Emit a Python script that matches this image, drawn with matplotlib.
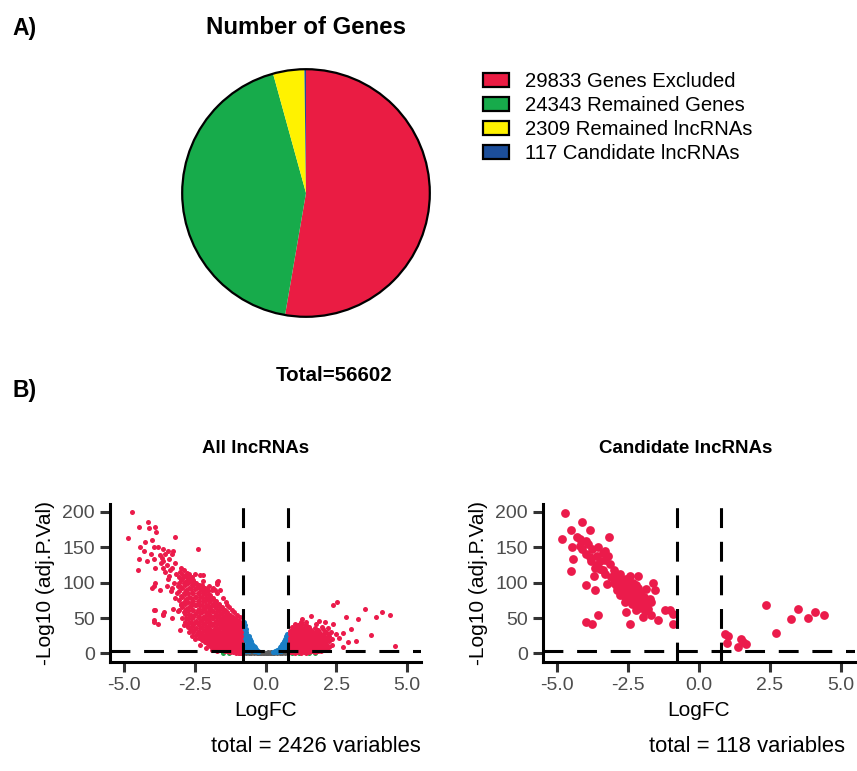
import matplotlib.pyplot as plt
from matplotlib.patches import Patch, Circle

plt.rcParams['font.family'] = ['Liberation Sans', 'DejaVu Sans']

# ---------------------------------------------------------
# Panel A data: gene counts
# ---------------------------------------------------------
pie_labels = ['29833 Genes Excluded', '24343 Remained Genes',
              '2309 Remained lncRNAs', '117 Candidate lncRNAs']
pie_counts = [29833, 24343, 2309, 117]
pie_colors = ['#EA1C43', '#17AB4B', '#FFF200', '#1C4E9A']
total_genes = 56602

# ---------------------------------------------------------
# Panel B data: volcano points (LogFC, -log10 adj.P.Val)
# ---------------------------------------------------------
fc_cut = 0.78
p_cut = 3

# All lncRNAs - significant, down (red, left)
all_down_pts = [
    (-4.73, 200), (-4.85, 163), (-4.49, 178), (-4.14, 185), (-4.12, 177), (-3.90, 178),
    (-3.87, 172), (-4.26, 158), (-4.02, 160), (-4.44, 151), (-3.95, 150), (-4.46, 134),
    (-4.20, 131), (-3.94, 134), (-4.51, 118), (-3.94, 95), (-4.00, 92), (-3.73, 90),
    (-3.94, 62), (-3.59, 58), (-3.61, 54), (-3.96, 45), (-3.79, 41), (-3.20, 165),
    (-2.37, 148), (-3.61, 148), (-3.73, 139), (-3.44, 144), (-3.26, 145), (-3.61, 130),
    (-3.20, 128), (-3.61, 120), (-3.37, 118), (-3.02, 115), (-2.79, 113), (-3.32, 92),
    (-3.14, 85), (-3.26, 63), (-3.02, 33), (-2.79, 40), (-2.85, 60), (-2.62, 68),
    (-2.62, 106), (-2.31, 111), (-2.08, 91), (-1.79, 89), (-1.61, 89), (-1.67, 103),
    (-1.73, 98), (-1.37, 68), (-2.37, 70), (-2.20, 111), (-1.73, 101), (-1.84, 92),
    (-3.90, 99), (-3.90, 61), (-3.61, 56), (-3.96, 47),
    (-3.50, 125), (-3.40, 110), (-3.30, 120), (-3.25, 100), (-3.15, 112), (-3.10, 95),
    (-3.35, 88), (-3.45, 105), (-3.55, 115), (-3.20, 78), (-3.00, 120), (-2.90, 118),
    (-2.70, 112), (-2.60, 108), (-2.50, 112), (-2.20, 103), (-2.00, 95), (-1.90, 90),
    (-1.70, 85), (-1.50, 78), (-1.40, 72), (-1.30, 66), (-1.20, 62), (-1.10, 58),
    (-1.00, 55), (-0.90, 52), (-3.65, 135), (-3.55, 140), (-3.80, 150), (-3.70, 128),
    (-3.90, 120), (-4.05, 140), (-4.30, 145), (-3.40, 133), (-3.30, 140), (-3.50, 95),
    (-3.00, 70), (-3.10, 60), (-2.90, 40), (-2.70, 30), (-2.50, 20), (-2.30, 12),
    (-2.10, 8), (-1.90, 5), (-1.70, 3), (-3.30, 50), (-2.60, 25),
    # dense mass
    (-3.05, 62), (-3.05, 75), (-3.05, 88), (-3.05, 100), (-3.05, 108),
    (-3.00, 68), (-3.00, 81), (-3.00, 94), (-3.00, 104),
    (-2.95, 50), (-2.95, 66), (-2.95, 80), (-2.95, 93), (-2.95, 105), (-2.95, 112),
    (-2.90, 58), (-2.90, 73), (-2.90, 86), (-2.90, 99), (-2.90, 109),
    (-2.85, 44), (-2.85, 56), (-2.85, 70), (-2.85, 84), (-2.85, 97), (-2.85, 109),
    (-2.80, 50), (-2.80, 63), (-2.80, 77), (-2.80, 90), (-2.80, 103),
    (-2.75, 38), (-2.75, 48), (-2.75, 60), (-2.75, 73), (-2.75, 86), (-2.75, 99), (-2.75, 106),
    (-2.70, 43), (-2.70, 54), (-2.70, 66), (-2.70, 80), (-2.70, 92), (-2.70, 102),
    (-2.65, 34), (-2.65, 44), (-2.65, 55), (-2.65, 67), (-2.65, 79), (-2.65, 91), (-2.65, 102),
    (-2.60, 39), (-2.60, 50), (-2.60, 61), (-2.60, 73), (-2.60, 85), (-2.60, 96),
    (-2.55, 30), (-2.55, 40), (-2.55, 51), (-2.55, 62), (-2.55, 74), (-2.55, 86), (-2.55, 97),
    (-2.55, 104),
    (-2.50, 35), (-2.50, 45), (-2.50, 56), (-2.50, 68), (-2.50, 80), (-2.50, 91), (-2.50, 100),
    (-2.45, 26), (-2.45, 36), (-2.45, 46), (-2.45, 57), (-2.45, 68), (-2.45, 80), (-2.45, 92),
    (-2.45, 100),
    (-2.40, 31), (-2.40, 41), (-2.40, 51), (-2.40, 62), (-2.40, 74), (-2.40, 86), (-2.40, 96),
    (-2.35, 22), (-2.35, 31), (-2.35, 41), (-2.35, 52), (-2.35, 63), (-2.35, 74), (-2.35, 86),
    (-2.35, 96),
    (-2.30, 26), (-2.30, 36), (-2.30, 46), (-2.30, 57), (-2.30, 68), (-2.30, 80), (-2.30, 91),
    (-2.25, 19), (-2.25, 27), (-2.25, 37), (-2.25, 47), (-2.25, 58), (-2.25, 69), (-2.25, 80),
    (-2.25, 90), (-2.25, 97),
    (-2.20, 23), (-2.20, 32), (-2.20, 42), (-2.20, 52), (-2.20, 63), (-2.20, 74), (-2.20, 85),
    (-2.20, 93),
    (-2.15, 16), (-2.15, 24), (-2.15, 33), (-2.15, 43), (-2.15, 53), (-2.15, 64), (-2.15, 74),
    (-2.15, 84), (-2.15, 92),
    (-2.10, 20), (-2.10, 28), (-2.10, 38), (-2.10, 48), (-2.10, 58), (-2.10, 69), (-2.10, 79),
    (-2.10, 88),
    (-2.05, 13), (-2.05, 21), (-2.05, 30), (-2.05, 39), (-2.05, 49), (-2.05, 59), (-2.05, 69),
    (-2.05, 79), (-2.05, 88),
    (-2.00, 17), (-2.00, 25), (-2.00, 34), (-2.00, 44), (-2.00, 54), (-2.00, 64), (-2.00, 74),
    (-2.00, 83),
    (-1.95, 11), (-1.95, 18), (-1.95, 26), (-1.95, 35), (-1.95, 45), (-1.95, 55), (-1.95, 64),
    (-1.95, 74), (-1.95, 83),
    (-1.90, 14), (-1.90, 22), (-1.90, 30), (-1.90, 40), (-1.90, 50), (-1.90, 60), (-1.90, 69),
    (-1.90, 78),
    (-1.85, 9), (-1.85, 15), (-1.85, 23), (-1.85, 32), (-1.85, 41), (-1.85, 50), (-1.85, 60),
    (-1.85, 70), (-1.85, 78),
    (-1.80, 12), (-1.80, 19), (-1.80, 27), (-1.80, 36), (-1.80, 45), (-1.80, 55), (-1.80, 65),
    (-1.80, 74),
    (-1.75, 7), (-1.75, 13), (-1.75, 20), (-1.75, 28), (-1.75, 37), (-1.75, 46), (-1.75, 56),
    (-1.75, 65), (-1.75, 74),
    (-1.70, 10), (-1.70, 16), (-1.70, 24), (-1.70, 32), (-1.70, 41), (-1.70, 51), (-1.70, 60),
    (-1.70, 69),
    (-1.65, 6), (-1.65, 11), (-1.65, 18), (-1.65, 25), (-1.65, 34), (-1.65, 43), (-1.65, 52),
    (-1.65, 61), (-1.65, 70),
    (-1.60, 8), (-1.60, 14), (-1.60, 21), (-1.60, 29), (-1.60, 38), (-1.60, 47), (-1.60, 56),
    (-1.60, 65),
    (-1.55, 5), (-1.55, 10), (-1.55, 16), (-1.55, 23), (-1.55, 31), (-1.55, 40), (-1.55, 48),
    (-1.55, 57), (-1.55, 66),
    (-1.50, 7), (-1.50, 13), (-1.50, 19), (-1.50, 27), (-1.50, 35), (-1.50, 44), (-1.50, 52),
    (-1.50, 61),
    (-1.45, 4), (-1.45, 8), (-1.45, 14), (-1.45, 21), (-1.45, 29), (-1.45, 37), (-1.45, 45),
    (-1.45, 53), (-1.45, 62),
    (-1.40, 6), (-1.40, 11), (-1.40, 17), (-1.40, 25), (-1.40, 33), (-1.40, 41), (-1.40, 49),
    (-1.40, 57),
    (-1.35, 3), (-1.35, 7), (-1.35, 12), (-1.35, 19), (-1.35, 26), (-1.35, 34), (-1.35, 42),
    (-1.35, 50), (-1.35, 58),
    (-1.30, 5), (-1.30, 9), (-1.30, 15), (-1.30, 22), (-1.30, 30), (-1.30, 38), (-1.30, 46),
    (-1.30, 54),
    (-1.25, 2), (-1.25, 6), (-1.25, 11), (-1.25, 17), (-1.25, 24), (-1.25, 31), (-1.25, 39),
    (-1.25, 47), (-1.25, 55),
    (-1.20, 4), (-1.20, 8), (-1.20, 14), (-1.20, 20), (-1.20, 27), (-1.20, 35), (-1.20, 43),
    (-1.20, 51),
    (-1.15, 2), (-1.15, 5), (-1.15, 10), (-1.15, 15), (-1.15, 22), (-1.15, 29), (-1.15, 36),
    (-1.15, 44), (-1.15, 52),
    (-1.10, 3), (-1.10, 7), (-1.10, 12), (-1.10, 18), (-1.10, 25), (-1.10, 32), (-1.10, 40),
    (-1.10, 48),
    (-1.05, 1), (-1.05, 4), (-1.05, 9), (-1.05, 14), (-1.05, 20), (-1.05, 27), (-1.05, 34),
    (-1.05, 41), (-1.05, 49),
    (-1.00, 2), (-1.00, 6), (-1.00, 11), (-1.00, 17), (-1.00, 23), (-1.00, 30), (-1.00, 37),
    (-1.00, 45),
    (-0.95, 1), (-0.95, 4), (-0.95, 8), (-0.95, 13), (-0.95, 19), (-0.95, 25), (-0.95, 32),
    (-0.95, 39), (-0.95, 46),
    (-0.91, 2), (-0.91, 6), (-0.91, 10), (-0.91, 16), (-0.91, 22), (-0.91, 28), (-0.91, 35),
    (-0.91, 42),
    (-0.87, 1), (-0.87, 3), (-0.87, 7), (-0.87, 12), (-0.87, 18), (-0.87, 24), (-0.87, 30),
    (-0.87, 37), (-0.87, 43),
]

# All lncRNAs - significant, up (red, right)
all_up_pts = [
    (2.40, 69), (2.52, 73), (3.52, 63), (4.11, 59), (4.40, 54), (3.91, 51), (3.28, 49),
    (2.83, 51), (2.40, 42), (3.02, 34), (2.73, 29), (3.72, 26), (3.20, 18), (2.93, 16),
    (4.58, 11), (2.75, 9), (1.60, 53), (1.22, 42),
    (1.30, 48), (1.45, 45), (1.80, 42), (2.00, 38), (2.20, 36), (2.50, 28), (2.60, 22),
    (2.30, 30), (2.10, 44), (1.90, 46),
    (0.85, 2), (0.85, 7), (0.85, 12), (0.85, 17), (0.85, 22), (0.85, 27), (0.85, 32),
    (0.90, 4), (0.90, 9), (0.90, 14), (0.90, 19), (0.90, 24), (0.90, 30),
    (0.95, 2), (0.95, 6), (0.95, 11), (0.95, 16), (0.95, 21), (0.95, 27), (0.95, 33), (0.95, 38),
    (1.00, 4), (1.00, 8), (1.00, 13), (1.00, 18), (1.00, 24), (1.00, 30), (1.00, 35),
    (1.05, 1), (1.05, 5), (1.05, 10), (1.05, 15), (1.05, 20), (1.05, 26), (1.05, 31), (1.05, 36),
    (1.05, 42),
    (1.10, 3), (1.10, 7), (1.10, 12), (1.10, 17), (1.10, 23), (1.10, 28), (1.10, 33), (1.10, 39),
    (1.15, 2), (1.15, 6), (1.15, 11), (1.15, 16), (1.15, 22), (1.15, 28), (1.15, 34), (1.15, 40),
    (1.20, 4), (1.20, 8), (1.20, 13), (1.20, 19), (1.20, 25), (1.20, 31), (1.20, 37),
    (1.25, 1), (1.25, 5), (1.25, 10), (1.25, 15), (1.25, 21), (1.25, 27), (1.25, 33), (1.25, 38),
    (1.25, 44),
    (1.30, 3), (1.30, 7), (1.30, 12), (1.30, 18), (1.30, 24), (1.30, 30), (1.30, 35), (1.30, 41),
    (1.35, 2), (1.35, 6), (1.35, 11), (1.35, 17), (1.35, 23), (1.35, 29), (1.35, 36),
    (1.40, 4), (1.40, 8), (1.40, 14), (1.40, 20), (1.40, 26), (1.40, 32),
    (1.45, 1), (1.45, 5), (1.45, 10), (1.45, 15), (1.45, 21), (1.45, 27), (1.45, 33), (1.45, 40),
    (1.50, 3), (1.50, 7), (1.50, 12), (1.50, 18), (1.50, 24), (1.50, 30), (1.50, 36),
    (1.55, 2), (1.55, 7), (1.55, 12), (1.55, 18), (1.55, 24), (1.55, 30), (1.55, 37),
    (1.60, 4), (1.60, 9), (1.60, 15), (1.60, 21), (1.60, 27), (1.60, 33),
    (1.65, 3), (1.65, 8), (1.65, 13), (1.65, 19), (1.65, 25), (1.65, 31),
    (1.70, 5), (1.70, 10), (1.70, 16), (1.70, 22), (1.70, 28),
    (1.75, 2), (1.75, 6), (1.75, 11), (1.75, 17), (1.75, 23), (1.75, 29), (1.75, 36),
    (1.80, 4), (1.80, 8), (1.80, 14), (1.80, 20), (1.80, 26), (1.80, 32),
    (1.85, 3), (1.85, 9), (1.85, 15), (1.85, 21), (1.85, 27), (1.85, 33),
    (1.90, 6), (1.90, 12), (1.90, 18), (1.90, 24), (1.90, 30),
    (1.95, 4), (1.95, 10), (1.95, 16), (1.95, 22), (1.95, 28),
    (2.00, 7), (2.00, 13), (2.00, 19), (2.00, 25),
    (2.05, 5), (2.05, 12), (2.05, 19), (2.05, 26), (2.05, 34),
    (2.10, 9), (2.10, 16), (2.10, 23), (2.10, 30),
    (2.15, 7), (2.15, 14), (2.15, 22), (2.15, 30),
    (2.20, 11), (2.20, 19), (2.20, 27),
    (2.25, 9), (2.25, 17), (2.25, 25),
    (2.35, 12), (2.35, 20),
]

# All lncRNAs - significant p, small fold change (blue)
all_fc_ns_pts = [
    (-0.75, 44), (-0.72, 40), (-0.70, 35), (-0.78, 30), (-0.68, 30), (-0.65, 26), (-0.62, 22),
    (-0.75, 22), (-0.70, 18), (-0.60, 16), (-0.58, 12), (-0.55, 20), (-0.50, 14), (-0.52, 8),
    (-0.47, 10), (-0.45, 6), (-0.42, 4), (-0.40, 8), (-0.38, 3), (-0.35, 5), (-0.30, 3),
    (-0.78, 12), (-0.72, 8), (-0.65, 6), (-0.60, 4), (-0.70, 3), (-0.78, 5), (-0.66, 12),
    (-0.73, 26), (-0.80, 38), (-0.80, 20), (-0.57, 25), (-0.50, 18), (-0.46, 14), (-0.42, 11),
    (-0.36, 9), (-0.32, 6), (-0.28, 4), (-0.25, 2),
    (0.75, 28), (0.72, 24), (0.78, 22), (0.70, 20), (0.66, 17), (0.62, 15), (0.58, 13),
    (0.55, 10), (0.50, 9), (0.46, 7), (0.42, 5), (0.38, 4), (0.34, 3), (0.30, 2), (0.75, 15),
    (0.70, 10), (0.65, 8), (0.60, 6), (0.55, 4), (0.50, 3), (0.75, 6), (0.78, 12), (0.68, 13),
    (0.63, 11), (0.72, 17), (0.45, 3), (0.40, 2), (0.26, 1.5),
]

# All lncRNAs - not significant (grey)
all_ns_pts = [
    (-0.30, 1.0), (-0.25, 0.8), (-0.20, 1.2), (-0.15, 0.5), (-0.10, 0.8), (-0.05, 0.3),
    (0.00, 0.2), (0.05, 0.4), (0.10, 0.6), (0.15, 0.5), (0.20, 0.8), (0.25, 0.6),
    (-0.35, 1.5), (-0.40, 1.2), (-0.45, 1.5), (-0.50, 1.2), (-0.60, 1.0), (-0.70, 0.8),
    (-0.80, 0.6), (0.30, 0.8), (0.40, 1.0), (0.50, 1.2), (0.60, 1.0), (0.70, 0.8),
    (0.80, 0.5), (-0.10, 2.0), (0.10, 2.0), (-0.20, 2.5), (0.20, 2.5), (-0.28, 2.5),
]

# All lncRNAs - fold change only (green)
all_p_ns_pts = [(-1.50, 0.5), (-1.30, 0.8), (-0.95, 0.6), (0.95, 0.5), (1.20, 0.8),
                (1.55, 0.6), (1.75, 0.5)]

# Candidate lncRNAs (all red)
cand_pts = [
    (-4.73, 199), (-4.14, 185), (-4.50, 175), (-3.85, 175), (-4.82, 161), (-4.47, 150),
    (-4.20, 161), (-3.97, 159), (-4.11, 147), (-3.79, 147), (-3.56, 150), (-3.17, 164),
    (-3.32, 145), (-3.85, 136), (-4.44, 133), (-3.59, 138), (-3.21, 138), (-3.15, 126),
    (-4.50, 117), (-3.68, 121), (-3.50, 119), (-3.32, 112), (-2.97, 114), (-2.80, 112),
    (-2.44, 110), (-2.15, 110), (-3.97, 97), (-3.68, 89), (-3.24, 98), (-2.91, 96),
    (-2.68, 100), (-2.56, 105), (-2.33, 100), (-2.80, 82), (-2.56, 86), (-2.38, 91),
    (-2.21, 96), (-2.09, 86), (-2.44, 77), (-2.27, 82), (-2.04, 82), (-1.86, 91),
    (-1.62, 100), (-1.56, 89), (-2.27, 72), (-2.09, 68), (-1.92, 70), (-1.74, 77),
    (-2.56, 58), (-2.21, 61), (-1.80, 63), (-1.68, 54), (-1.98, 51), (-1.45, 47),
    (-2.44, 41), (-3.97, 45), (-3.79, 41), (-3.56, 54), (-1.21, 62), (-1.04, 61),
    (-0.92, 56), (-0.92, 42), (-2.80, 91),
    (-2.60, 95), (-2.50, 92), (-2.40, 85), (-2.30, 90), (-2.70, 88), (-2.90, 90),
    (-3.00, 100), (-2.60, 80), (-2.20, 78), (-2.00, 75), (-2.35, 70), (-2.50, 75),
    (-2.10, 64), (-1.90, 60), (-2.70, 105), (-3.10, 108), (-3.40, 118), (-3.60, 125),
    (-3.80, 130), (-4.00, 140), (-4.20, 152), (-3.90, 155), (-3.40, 142), (-3.30, 132),
    (-3.00, 118), (-2.85, 102), (-2.45, 98), (-2.20, 88), (-1.95, 80), (-1.70, 72),
    (-2.65, 92), (-2.75, 96), (-2.55, 88), (-2.35, 78), (-3.50, 130), (-4.30, 165),
    (-3.70, 110), (-2.90, 108), (-2.50, 102), (-2.15, 92), (-2.00, 70), (-2.60, 72),
    (0.90, 27), (1.04, 24), (0.99, 15), (1.37, 9), (1.49, 21), (1.66, 13), (1.54, 16),
    (2.36, 69), (2.71, 29), (3.24, 49), (3.50, 63), (3.86, 50), (4.09, 59), (4.41, 54),
]

red = '#EB1B4B'
blue = '#1A7FC6'
grey = '#5E5E5E'
green = '#1BA84A'

W, H = 857, 771
fig = plt.figure(figsize=(W / 100, H / 100), dpi=100)


def fx(px):
    return px / W


def fy(py):
    return 1 - py / H


# ---------------------------------------------------------
# Panel A: pie
# ---------------------------------------------------------
ax_pie = fig.add_axes([fx(306 - 130), fy(193 + 130), 260 / W, 260 / H])
ax_pie.pie(pie_counts, colors=pie_colors, startangle=90, counterclock=False,
           radius=1, wedgeprops={'linewidth': 0})
ax_pie.add_patch(Circle((0, 0), 1, fill=False, edgecolor='black', linewidth=1.6))
ax_pie.set_xlim(-1.05, 1.05)
ax_pie.set_ylim(-1.05, 1.05)
ax_pie.set_aspect('equal')
ax_pie.axis('off')

fig.text(fx(12), fy(28), 'A)', fontsize=16.5, fontweight='bold', va='center', ha='left')
fig.text(fx(306), fy(28), 'Number of Genes', fontsize=17.3, fontweight='bold',
         va='center', ha='center')
fig.text(fx(334), fy(375), f'Total={total_genes}', fontsize=14.8, fontweight='bold',
         va='center', ha='center')

handles = [Patch(facecolor=c, edgecolor='black', linewidth=1.6) for c in pie_colors]
fig.legend(handles, pie_labels, loc='upper left', bbox_to_anchor=(fx(483), fy(72)),
           frameon=False, fontsize=14.6, handlelength=1.3, handleheight=0.65,
           handletextpad=0.75, labelspacing=0.25, borderpad=0, borderaxespad=0)

# ---------------------------------------------------------
# Panel B: volcano plots
# ---------------------------------------------------------
fig.text(fx(12), fy(390), 'B)', fontsize=16.5, fontweight='bold', va='center', ha='left')


def volcano(ax, groups, size, title, title_x, total_text, total_x):
    for pts, color in groups:
        xs = [p[0] for p in pts]
        ys = [p[1] for p in pts]
        ax.scatter(xs, ys, s=size, color=color, linewidths=0, zorder=2)
    for xv in (-fc_cut, fc_cut):
        ax.axvline(xv, color='black', lw=2.2, ls=(0, (6.5, 4.5)), zorder=3)
    ax.axhline(p_cut, color='black', lw=2.2, ls=(0, (6.5, 4.5)), zorder=3)
    ax.set_xlim(-5.5, 5.5)
    ax.set_ylim(-12, 211)
    ax.set_xticks([-5, -2.5, 0, 2.5, 5])
    ax.set_xticklabels(['-5.0', '-2.5', '0.0', '2.5', '5.0'])
    ax.set_yticks([0, 50, 100, 150, 200])
    for side in ('top', 'right'):
        ax.spines[side].set_visible(False)
    for side in ('left', 'bottom'):
        ax.spines[side].set_linewidth(2.2)
    ax.tick_params(axis='both', length=7, width=2.2, color='#333333',
                   labelcolor='#4D4D4D', labelsize=14, pad=4)
    ax.set_xlabel('LogFC', fontsize=15, labelpad=5)
    ax.set_ylabel('-Log10 (adj.P.Val)', fontsize=15, labelpad=5)
    fig.text(fx(title_x), fy(448), title, fontsize=13.5, fontweight='bold',
             ha='center', va='center')
    fig.text(fx(total_x), fy(747), total_text, fontsize=15.8, ha='center', va='center')


ax_all = fig.add_axes([fx(110), fy(662), (421 - 110) / W, (662 - 504) / H])
volcano(ax_all,
        [(all_ns_pts, grey), (all_p_ns_pts, green), (all_fc_ns_pts, blue),
         (all_down_pts, red), (all_up_pts, red)],
        13, 'All lncRNAs', 256, 'total = 2426 variables', 316)

ax_cand = fig.add_axes([fx(543), fy(662), (855 - 543) / W, (662 - 504) / H])
volcano(ax_cand, [(cand_pts, red)], 40, 'Candidate lncRNAs', 686,
        'total = 118 variables', 747)

fig.savefig('out.png', dpi=100)
